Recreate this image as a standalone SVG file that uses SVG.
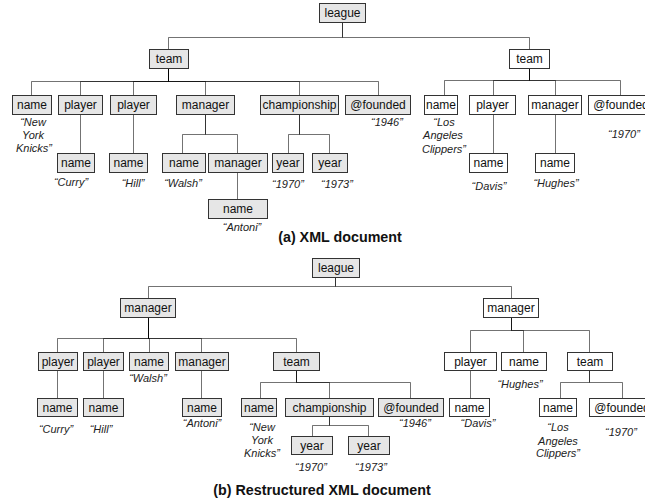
<svg xmlns="http://www.w3.org/2000/svg" width="645" height="502" viewBox="0 0 645 502">
<style>
.f{fill:#e6e6e6;stroke:#333;stroke-width:1}
.w{fill:#fff;stroke:#333;stroke-width:1}
.l{font-family:"Liberation Sans",Arial,sans-serif;font-size:12px;text-anchor:middle;fill:#111}
.v{font-family:"Liberation Sans",Arial,sans-serif;font-size:11px;font-style:italic;text-anchor:middle;fill:#222}
.c{font-family:"Liberation Sans",Arial,sans-serif;font-size:14.3px;font-weight:bold;text-anchor:middle;fill:#111}
.e path{fill:none;stroke:#000;stroke-opacity:0.55;stroke-width:1}
</style>
<rect width="645" height="502" fill="#fff"/>
<g class="e" id="connectors">
<path d="M342.5 22V37.5H168.5V49"/>
<path d="M342.5 22V37.5H529.5V49"/>
<path d="M168.5 68V81.5H31.5V95"/>
<path d="M168.5 68V81.5H80.5V95"/>
<path d="M168.5 68V81.5H133.5V95"/>
<path d="M168.5 68V81.5H205.5V95"/>
<path d="M168.5 68V81.5H299.5V95"/>
<path d="M168.5 68V81.5H378.5V95"/>
<path d="M529.5 68V80.5H444.5V95"/>
<path d="M529.5 68V80.5H493.5V95"/>
<path d="M529.5 68V80.5H555.5V95"/>
<path d="M529.5 68V80.5H620.5V95"/>
<path d="M80.5 114V153"/>
<path d="M133.5 114V153"/>
<path d="M205.5 114V134.5H182.5V153"/>
<path d="M205.5 114V134.5H237.5V153"/>
<path d="M299.5 114V134.5H288.5V153"/>
<path d="M299.5 114V134.5H329.5V153"/>
<path d="M237.5 172V199"/>
<path d="M493.5 114V153"/>
<path d="M555.5 114V153"/>
<path d="M335.5 277V286.5H148.5V298"/>
<path d="M335.5 277V286.5H511.5V298"/>
<path d="M148.5 317V338.5H57.5V352"/>
<path d="M148.5 317V338.5H103.5V352"/>
<path d="M148.5 317V338.5H149.5V352"/>
<path d="M148.5 317V338.5H201.5V352"/>
<path d="M148.5 317V338.5H296.5V352"/>
<path d="M511.5 317V330.5H470.5V352"/>
<path d="M511.5 317V330.5H523.5V352"/>
<path d="M511.5 317V330.5H589.5V352"/>
<path d="M57.5 370V398"/>
<path d="M103.5 370V398"/>
<path d="M201.5 370V398"/>
<path d="M296.5 370V382.5H260.5V398"/>
<path d="M296.5 370V382.5H329.5V398"/>
<path d="M296.5 370V382.5H410.5V398"/>
<path d="M470.5 370V398"/>
<path d="M589.5 370V382.5H560.5V398"/>
<path d="M589.5 370V382.5H622.5V398"/>
<path d="M329.5 417V425.5H312.5V436"/>
<path d="M329.5 417V425.5H368.5V436"/>
</g>

<!-- (a) -->
<g id="a-league"><rect class="f" x="319.5" y="3.5" width="46" height="19"/><text class="l" x="342.5" y="17">league</text></g>
<g id="a-team1"><rect class="f" x="149.5" y="49.5" width="39" height="19"/><text class="l" x="169" y="63">team</text></g>
<g id="a-team2"><rect class="w" x="509.5" y="49.5" width="40" height="19"/><text class="l" x="529.5" y="63">team</text></g>

<g id="a-name1"><rect class="f" x="12.5" y="95.5" width="39" height="19"/><text class="l" x="32" y="109">name</text>
<text class="v" x="33" y="126">“New</text><text class="v" x="33" y="139">York</text><text class="v" x="34" y="152">Knicks”</text></g>
<g id="a-player1"><rect class="f" x="58.5" y="95.5" width="44" height="19"/><text class="l" x="80.5" y="109">player</text></g>
<g id="a-player2"><rect class="f" x="110.5" y="95.5" width="46" height="19"/><text class="l" x="133.5" y="109">player</text></g>
<g id="a-manager1"><rect class="f" x="176.5" y="95.5" width="58" height="19"/><text class="l" x="205.5" y="109">manager</text></g>
<g id="a-championship"><rect class="f" x="260.5" y="95.5" width="78" height="19"/><text class="l" x="299.5" y="109">championship</text></g>
<g id="a-founded1"><rect class="f" x="345.5" y="95.5" width="65" height="19"/><text class="l" x="378" y="109">@founded</text>
<text class="v" x="387" y="126">“1946”</text></g>

<g id="a-name-curry"><rect class="f" x="57.5" y="153.5" width="37" height="19"/><text class="l" x="76" y="167">name</text>
<text class="v" x="71" y="186">“Curry”</text></g>
<g id="a-name-hill"><rect class="f" x="109.5" y="153.5" width="38" height="19"/><text class="l" x="128.5" y="167">name</text>
<text class="v" x="133" y="187">“Hill”</text></g>
<g id="a-name-walsh"><rect class="f" x="162.5" y="153.5" width="43" height="19"/><text class="l" x="184" y="167">name</text>
<text class="v" x="183" y="187">“Walsh”</text></g>
<g id="a-manager2"><rect class="f" x="208.5" y="153.5" width="59" height="19"/><text class="l" x="238" y="167">manager</text></g>
<g id="a-year1"><rect class="f" x="272.5" y="153.5" width="31" height="19"/><text class="l" x="288" y="167">year</text>
<text class="v" x="288" y="188">“1970”</text></g>
<g id="a-year2"><rect class="f" x="312.5" y="153.5" width="35" height="19"/><text class="l" x="330" y="167">year</text>
<text class="v" x="337" y="188">“1973”</text></g>
<g id="a-name-antoni"><rect class="f" x="208.5" y="199.5" width="59" height="19"/><text class="l" x="238" y="213">name</text>
<text class="v" x="242" y="231">“Antoni”</text></g>

<g id="a-name2"><rect class="w" x="424.5" y="95.5" width="33" height="19"/><text class="l" x="441" y="109">name</text>
<text class="v" x="444" y="126">“Los</text><text class="v" x="443" y="139">Angeles</text><text class="v" x="444" y="153">Clippers”</text></g>
<g id="a-player3"><rect class="w" x="469.5" y="95.5" width="46" height="19"/><text class="l" x="492.5" y="109">player</text></g>
<g id="a-manager3"><rect class="w" x="528.5" y="95.5" width="53" height="19"/><text class="l" x="555" y="109">manager</text></g>
<g id="a-founded2"><rect class="w" x="588.5" y="95.5" width="65" height="19"/><text class="l" x="621" y="109">@founded</text>
<text class="v" x="624" y="138">“1970”</text></g>
<g id="a-name-davis"><rect class="w" x="469.5" y="153.5" width="38" height="19"/><text class="l" x="488.5" y="167">name</text>
<text class="v" x="489" y="190">“Davis”</text></g>
<g id="a-name-hughes"><rect class="w" x="535.5" y="153.5" width="39" height="19"/><text class="l" x="555" y="167">name</text>
<text class="v" x="556" y="187">“Hughes”</text></g>

<text class="c" x="340" y="242">(a) XML document</text>

<!-- (b) -->
<g id="b-league"><rect class="f" x="312.5" y="258.5" width="47" height="19"/><text class="l" x="336" y="272">league</text></g>
<g id="b-manager1"><rect class="f" x="120.5" y="298.5" width="55" height="19"/><text class="l" x="148" y="312">manager</text></g>
<g id="b-manager2"><rect class="w" x="483.5" y="298.5" width="55" height="19"/><text class="l" x="511" y="312">manager</text></g>

<g id="b-player1"><rect class="f" x="38.5" y="352.5" width="39" height="18"/><text class="l" x="58" y="366">player</text></g>
<g id="b-player2"><rect class="f" x="83.5" y="352.5" width="40" height="18"/><text class="l" x="103.5" y="366">player</text></g>
<g id="b-name-walsh"><rect class="f" x="129.5" y="352.5" width="39" height="18"/><text class="l" x="149" y="366">name</text>
<text class="v" x="148" y="382">“Walsh”</text></g>
<g id="b-manager3"><rect class="f" x="175.5" y="352.5" width="53" height="18"/><text class="l" x="202" y="366">manager</text></g>
<g id="b-team1"><rect class="f" x="273.5" y="352.5" width="46" height="18"/><text class="l" x="296.5" y="366">team</text></g>

<g id="b-player3"><rect class="w" x="444.5" y="352.5" width="52" height="18"/><text class="l" x="470.5" y="366">player</text></g>
<g id="b-name-hughes"><rect class="w" x="501.5" y="352.5" width="45" height="18"/><text class="l" x="524" y="366">name</text>
<text class="v" x="520" y="388">“Hughes”</text></g>
<g id="b-team2"><rect class="w" x="567.5" y="352.5" width="45" height="18"/><text class="l" x="590" y="366">team</text></g>

<g id="b-name-curry"><rect class="f" x="37.5" y="398.5" width="40" height="18"/><text class="l" x="57.5" y="412">name</text>
<text class="v" x="56" y="433">“Curry”</text></g>
<g id="b-name-hill"><rect class="f" x="83.5" y="398.5" width="40" height="18"/><text class="l" x="103.5" y="412">name</text>
<text class="v" x="101" y="433">“Hill”</text></g>
<g id="b-name-antoni"><rect class="f" x="182.5" y="398.5" width="39" height="18"/><text class="l" x="202" y="412">name</text>
<text class="v" x="202" y="427">“Antoni”</text></g>
<g id="b-name1"><rect class="f" x="241.5" y="398.5" width="35" height="18"/><text class="l" x="259" y="412">name</text>
<text class="v" x="262" y="431">“New</text><text class="v" x="262" y="444">York</text><text class="v" x="262" y="457">Knicks”</text></g>
<g id="b-championship"><rect class="f" x="285.5" y="398.5" width="88" height="18"/><text class="l" x="329.5" y="412">championship</text></g>
<g id="b-founded1"><rect class="f" x="378.5" y="398.5" width="65" height="18"/><text class="l" x="411" y="412">@founded</text>
<text class="v" x="415" y="427">“1946”</text></g>
<g id="b-name-davis"><rect class="w" x="449.5" y="398.5" width="40" height="18"/><text class="l" x="469.5" y="412">name</text>
<text class="v" x="478" y="427">“Davis”</text></g>
<g id="b-name2"><rect class="w" x="539.5" y="398.5" width="37" height="18"/><text class="l" x="558" y="412">name</text>
<text class="v" x="558" y="431">“Los</text><text class="v" x="558" y="445">Angeles</text><text class="v" x="558" y="457">Clippers”</text></g>
<g id="b-founded2"><rect class="w" x="589.5" y="398.5" width="65" height="18"/><text class="l" x="622" y="412">@founded</text>
<text class="v" x="621" y="436">“1970”</text></g>
<g id="b-year1"><rect class="f" x="291.5" y="436.5" width="41" height="18"/><text class="l" x="312" y="450">year</text>
<text class="v" x="311" y="471">“1970”</text></g>
<g id="b-year2"><rect class="f" x="348.5" y="436.5" width="41" height="18"/><text class="l" x="369" y="450">year</text>
<text class="v" x="371" y="471">“1973”</text></g>

<text class="c" x="322" y="495">(b) Restructured XML document</text>
</svg>
